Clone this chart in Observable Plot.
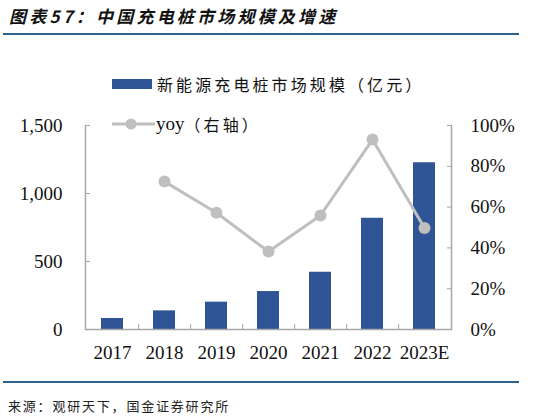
<!DOCTYPE html>
<html><head><meta charset="utf-8">
<script src="https://cdn.jsdelivr.net/npm/d3@7"></script>
<script src="https://cdn.jsdelivr.net/npm/@observablehq/plot@0.6"></script>
<style>
body{margin:0;background:#fff;width:541px;height:416px;overflow:hidden;position:relative;font-family:"Noto Sans CJK SC",sans-serif;}
#title{position:absolute;left:9px;top:3px;font-size:17px;font-weight:bold;font-style:italic;letter-spacing:3.2px;color:#111;white-space:nowrap;}
.hr{position:absolute;left:3px;width:516px;height:2px;background:#2d6289;}
#chart{position:absolute;left:0;top:110px;}
.leg{position:absolute;left:112px;display:flex;align-items:center;white-space:nowrap;color:#111;z-index:2;}
.cjk{font-size:16px;letter-spacing:3.1px;}
.ser{font-family:"Liberation Serif",serif;font-size:19px;}
#foot{position:absolute;left:8px;top:396px;font-size:13px;letter-spacing:1.8px;color:#222;white-space:nowrap;}
</style></head>
<body>
<div id="title">图表57：中国充电桩市场规模及增速</div>
<div class="hr" style="top:33px"></div>
<div id="chart"></div>
<div class="leg" style="top:72px"><span style="display:inline-block;width:40px;height:10px;background:#2f5597;margin-right:5px"></span><span class="cjk">新能源充电桩市场规模（亿元）</span></div>
<div class="leg" style="top:112px"><svg width="43" height="12" style="margin-right:1px"><line x1="0" y1="6" x2="43" y2="6" stroke="#bfbfbf" stroke-width="3"/><circle cx="19" cy="6" r="5.5" fill="#bfbfbf"/></svg><span class="ser">yoy</span><span class="cjk">（右轴）</span></div>
<div class="hr" style="top:381px"></div>
<div id="foot">来源：观研天下，国金证券研究所</div>
<script>
const years = ["2017","2018","2019","2020","2021","2022","2023E"];
const marketSize = [81, 137, 201, 279, 421, 818, 1226];
const yoyYears = ["2018","2019","2020","2021","2022","2023E"];
const yoyPct = [72.5, 57.2, 38.2, 55.9, 93.1, 49.8];
const leftTicks = [0, 500, 1000, 1500];
const rightTicksPct = [0, 20, 40, 60, 80, 100];

const leftMax = 1500, rightMax = 100;
const k = leftMax / rightMax;
const bars = years.map((y, i) => ({year: y, value: marketSize[i]}));
const yoy = yoyYears.map((y, i) => ({year: y, v: yoyPct[i] * k}));

const W = 541, mL = 85, mR = 90;
const bw = (W - mL - mR) / years.length;
const axisColor = "#a6a6a6";

const chart = Plot.plot({
  width: W, height: 260,
  marginTop: 15, marginBottom: 41, marginLeft: mL, marginRight: mR,
  style: {fontFamily: "Liberation Serif, serif", fontSize: "19px", color: "#111", background: "transparent"},
  x: {domain: years, padding: 0, label: null},
  y: {domain: [0, leftMax], label: null},
  marks: [
    Plot.barY(bars, {x: "year", y: "value", fill: "#2f5597", insetLeft: 15, insetRight: 15}),
    Plot.frame({anchor: "left", stroke: axisColor, strokeWidth: 1.5}),
    Plot.frame({anchor: "right", stroke: axisColor, strokeWidth: 1.5}),
    Plot.ruleY([0], {stroke: axisColor, strokeWidth: 1.5}),
    Plot.axisY(leftTicks, {anchor: "left", tickSize: -5, tickPadding: 28, stroke: axisColor, tickFormat: d3.format(","), label: null}),
    Plot.axisY(rightTicksPct.map(p => p * k), {anchor: "right", tickSize: -5, tickPadding: 24, stroke: axisColor, tickFormat: d => (d / k) + "%", textAnchor: "start", label: null}),
    Plot.axisX(years, {anchor: "bottom", tickSize: 0, tickPadding: 16, label: null}),
    Plot.axisX(years.slice(0, -1), {anchor: "bottom", tickSize: -5, dx: bw / 2, stroke: axisColor, tickFormat: () => "", label: null}),
    Plot.line(yoy, {x: "year", y: "v", stroke: "#bfbfbf", strokeWidth: 3}),
    Plot.dot(yoy, {x: "year", y: "v", r: 6, fill: "#bfbfbf"})
  ]
});
document.getElementById("chart").appendChild(chart);
</script>
</body></html>
